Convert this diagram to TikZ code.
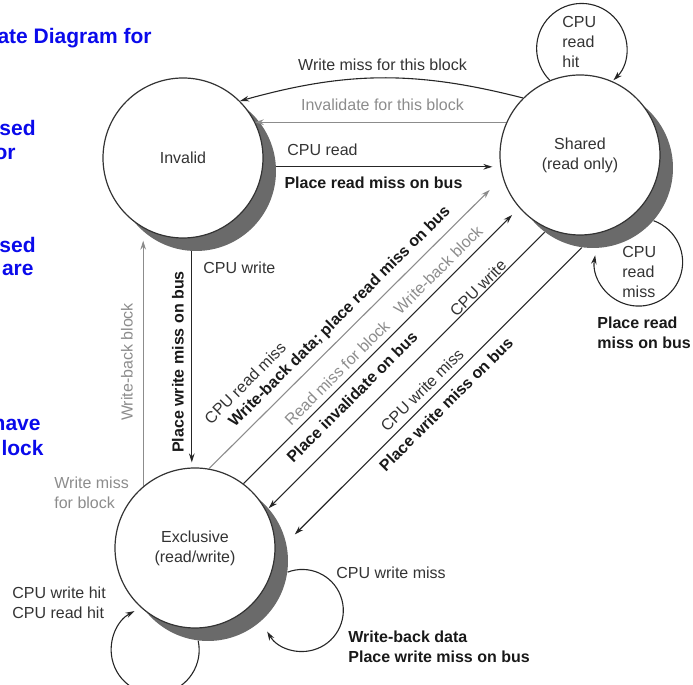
\documentclass[tikz,border=0pt]{standalone}
\usepackage{fontspec}
\setmainfont{Liberation Sans}
\usetikzlibrary{arrows.meta,backgrounds}
\tikzset{>={Stealth[length=4.5pt,width=2.8pt]}}
\definecolor{slideblue}{RGB}{10,10,235}
\definecolor{busgray}{HTML}{8C8C8C}
\definecolor{inkgray}{HTML}{333333}
\definecolor{shadowgray}{HTML}{6A6A6A}
\tikzset{
  state/.style={circle, draw=black!80, line width=0.6pt, fill=white,
    minimum size=80pt, inner sep=0pt, align=center, text=inkgray},
  shadowdisc/.style={circle, fill=shadowgray, minimum size=80pt, inner sep=0pt},
  ev/.style={text=inkgray, inner sep=0pt},
  act/.style={text=black!90, font=\fontsize{8}{10}\selectfont\bfseries, inner sep=0pt},
  bustxt/.style={text=busgray, inner sep=0pt},
  ink/.style={draw=black!85, line width=0.55pt, ->},
  faint/.style={draw=busgray, line width=0.55pt, ->},
  slidetxt/.style={text=slideblue, font=\fontsize{10.5}{13}\selectfont\bfseries,
    inner sep=0pt, anchor=east}
}

\begin{document}
\begin{tikzpicture}[x=0.5pt, y=0.5pt, every node/.style={font=\fontsize{8}{10}\selectfont}]

  \useasboundingbox (0,0) rectangle (693,685);
  \clip (0,0) rectangle (693,685);

  \node[state] (inv) at (183,527) {Invalid};
  \node[state] (sh) at (580,530) {Shared\\(read only)};
  \node[state] (exc) at (195,137) {Exclusive\\(read/write)};

  \begin{scope}[on background layer]
    \node[shadowdisc] (invsh) at ([shift={(6.5pt,-6.5pt)}]inv.center) {};
    \node[shadowdisc] (shsh) at ([shift={(6.5pt,-6.5pt)}]sh.center) {};
    \node[shadowdisc] (excsh) at ([shift={(6.5pt,-6.5pt)}]exc.center) {};
  \end{scope}

  % Invalid <-> Shared
  \draw[ink] (sh.135) to[bend right=15] (inv.45);
  \draw[faint] (sh.156) -- (sh.156 -| inv.27);
  \draw[ink, shorten >=4pt] (invsh.3) -- (invsh.3 -| sh.189);
  \node[ev] at (382.5,620) {Write miss for this block};
  \node[bustxt] at (382.5,580) {Invalidate for this block};
  \node[ev, anchor=west] at (287,535) {CPU read};
  \node[act] at (373.5,502) {Place read miss on bus};

  % Invalid <-> Exclusive
  \draw[ink, shorten >=2.5pt] (invsh.-93) -- (invsh.-93 |- exc.92);
  \draw[faint, shorten >=4.5pt] (exc.130) -- (exc.130 |- invsh.-131);
  \node[ev, anchor=west] at (203,417) {CPU write};
  \node[act, rotate=90] at (178,323) {Place write miss on bus};
  \node[bustxt, rotate=90] at (127,323) {Write-back block};
  \node[bustxt, anchor=west, align=left] at (54,192) {Write miss\\for block};

  % Exclusive <-> Shared
  \draw[faint, shorten >=9pt] (exc.80) -- (sh.196);
  \draw[ink, shorten >=5pt] (exc.53) -- (sh.221);
  \draw[ink] (shsh.233) -- (excsh.41);
  \draw[ink, shorten >=6pt] (shsh.262) -- (excsh.13);
  \node[ev, rotate=45] at (245,302) {CPU read miss};
  \node[act, rotate=45] at (340,368) {Write-back data; place read miss on bus};
  \node[bustxt, rotate=45] at (337,312) {Read miss for block};
  \node[bustxt, rotate=45] at (438,415) {Write-back block};
  \node[act, rotate=45] at (352,288) {Place invalidate on bus};
  \node[ev, rotate=45] at (478,397) {CPU write};
  \node[ev, rotate=45] at (422,295) {CPU write miss};
  \node[act, rotate=45] at (446,281) {Place write miss on bus};

  % self loops
  \draw[ink] (sh.112) arc[start angle=225, end angle=-45, radius=45];
  \draw[ink] (shsh.-41) arc[start angle=70, end angle=-189, radius=44];
  \draw[ink] (excsh.-97) arc[start angle=12, end angle=-242, radius=44];
  \draw[ink] (excsh.-8) arc[start angle=111, end angle=-149, radius=41];
  \node[ev, anchor=west, align=left] at (562,643) {CPU\\read\\hit};
  \node[ev, anchor=west, align=left] at (622,413) {CPU\\read\\miss};
  \node[act, anchor=west, align=left] at (597,352) {Place read\\miss on bus};
  \node[ev, anchor=west, align=left] at (12,82) {CPU write hit\\CPU read hit};
  \node[ev, anchor=west] at (336,112) {CPU write miss};
  \node[act, anchor=west, align=left] at (348,38) {Write-back data\\Place write miss on bus};

  % slide text cut off at the left edge
  \node[slidetxt] at (152,647) {ate Diagram for};
  \node[slidetxt] at (36,557) {sed};
  \node[slidetxt] at (16,531) {or};
  \node[slidetxt] at (36,440) {sed};
  \node[slidetxt] at (34,415) {are};
  \node[slidetxt] at (41,262) {have};
  \node[slidetxt] at (44,237) {lock};

\end{tikzpicture}
\end{document}
